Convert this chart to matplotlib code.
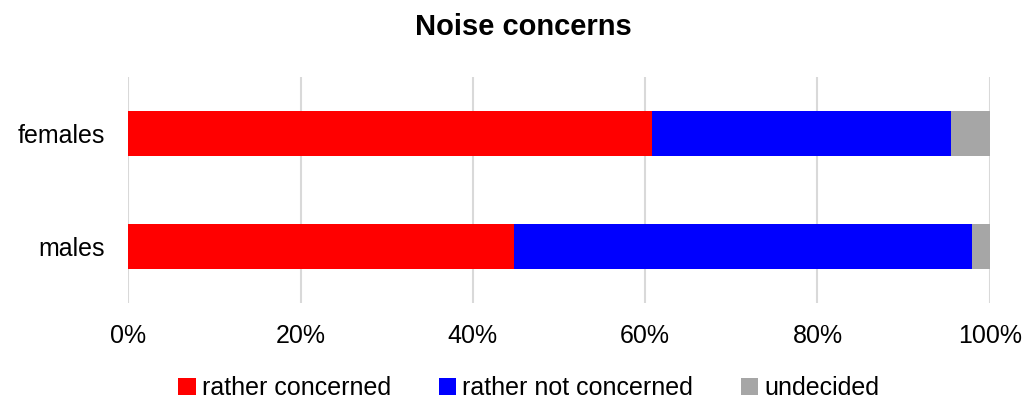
import numpy as np
import matplotlib.pyplot as plt

plt.rcParams['font.family'] = ['Liberation Sans', 'DejaVu Sans']

# survey shares in percent, bottom row first
groups = ['males', 'females']
concerned = [44.8, 60.8]
not_concerned = [53.1, 34.7]
undecided = [2.1, 4.5]

series = [
    ('rather concerned', concerned, '#ff0000'),
    ('rather not concerned', not_concerned, '#0000ff'),
    ('undecided', undecided, '#a6a6a6'),
]

fig = plt.figure(figsize=(10.27, 4.0), dpi=100)
ax = fig.add_axes([0.125, 0.2425, 0.8387, 0.565])

y = np.arange(len(groups))
left = np.zeros(len(groups))
for name, vals, color in series:
    ax.barh(y, vals, left=left, height=0.4, color=color, label=name, zorder=3)
    left += np.array(vals)

ax.set_xlim(0, 100)
ax.set_ylim(-0.5, 1.5)
ax.set_xticks(np.arange(0, 101, 20))
ax.set_xticklabels([f'{v}%' for v in range(0, 101, 20)])
ax.set_yticks(y)
ax.set_yticklabels(groups)
ax.tick_params(axis='both', length=0, labelsize=18, colors='#000000')
ax.tick_params(axis='x', pad=15)
ax.tick_params(axis='y', pad=17)
ax.grid(axis='x', color='#d9d9d9', linewidth=1.5, zorder=0)
for s in ax.spines.values():
    s.set_visible(False)

fig.text(0.51, 0.932, 'Noise concerns', fontsize=21, fontweight='bold',
         ha='center', va='center')

fig.legend(loc='center', bbox_to_anchor=(0.515, 0.03), ncol=3, frameon=False,
           fontsize=18, handlelength=0.7, handleheight=0.7, handletextpad=0.25,
           columnspacing=1.9)

fig.savefig('out.png', dpi=100)
